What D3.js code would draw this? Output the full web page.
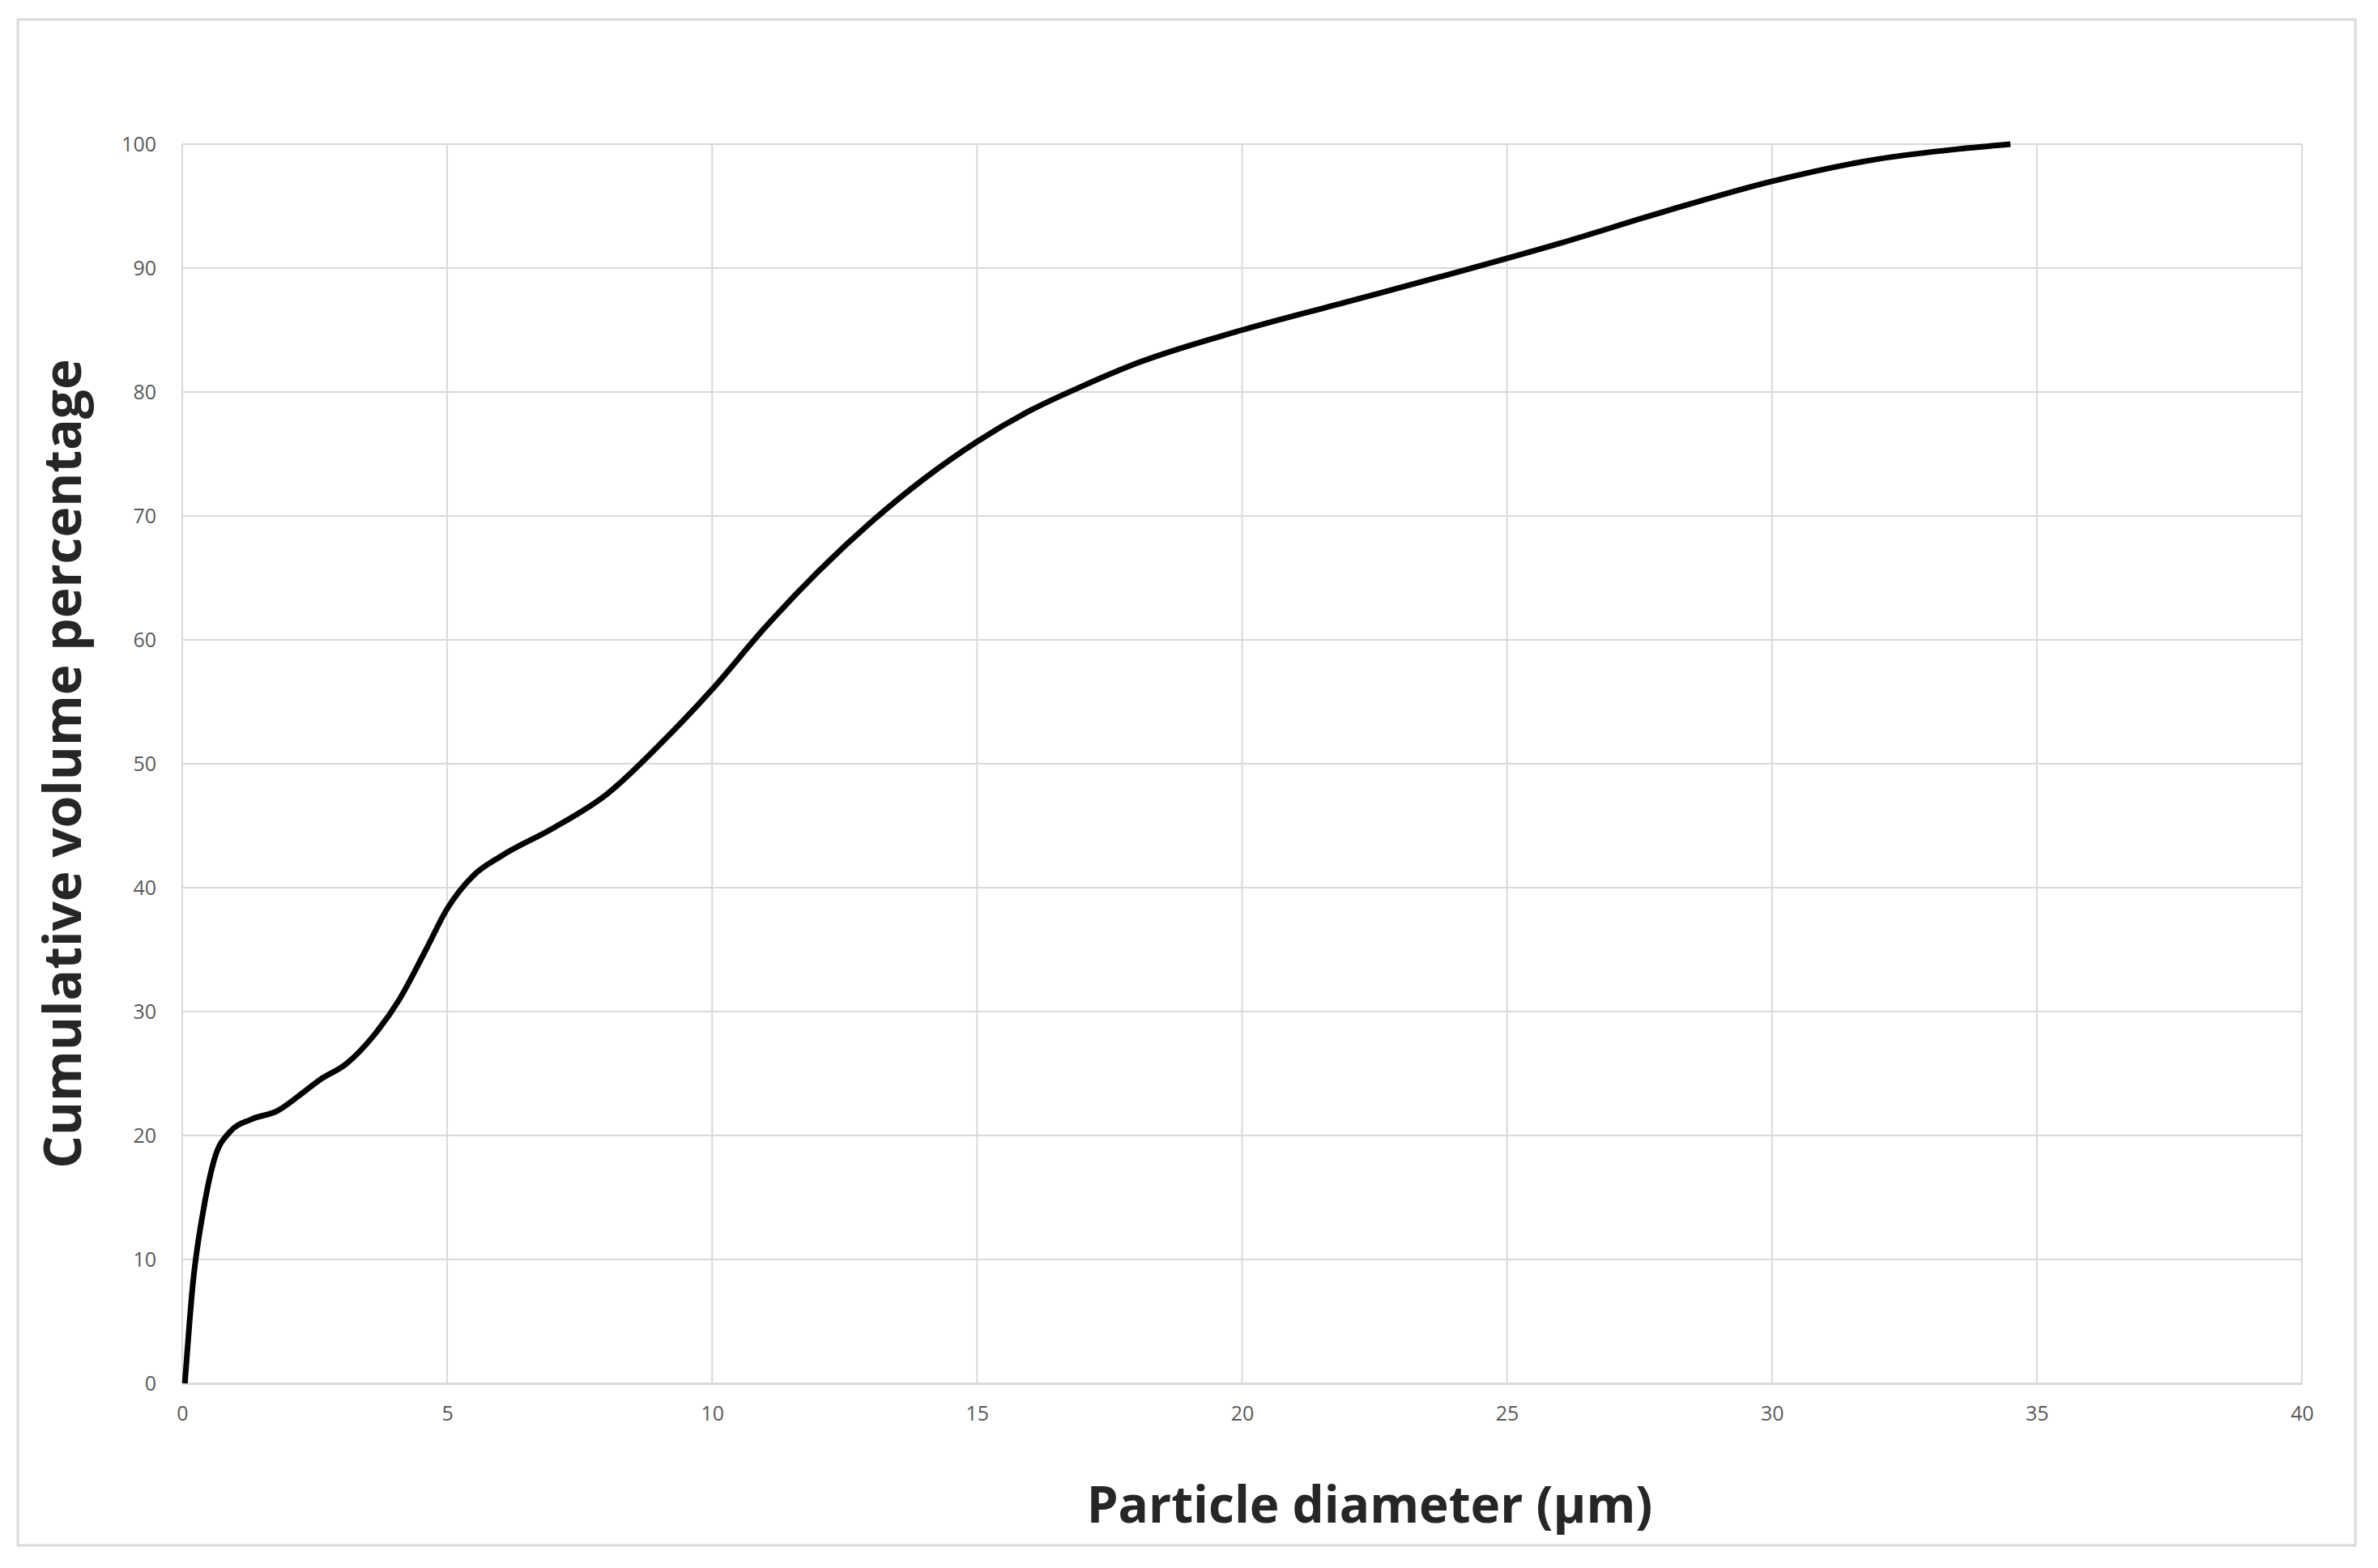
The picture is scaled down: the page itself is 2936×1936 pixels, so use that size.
<!DOCTYPE html><html><head><meta charset="utf-8"><script src="https://cdn.jsdelivr.net/npm/d3@7"></script>
<style>body{margin:0;background:#fff}</style></head><body><svg id="c" width="2936" height="1936"></svg>
<script>
const diameter=[0.05,0.2,0.4,0.6,0.9,1.3,1.8,2.2,2.6,3.1,3.6,4.1,4.6,5,5.5,6,7,8,9,10,11,12,13,14,15,16,17,18,20,22,24,26,28,30,32,33.5,34.5];
const cumulative=[0,8,14,18,20.3,21.3,22,23.2,24.5,25.8,28,31,35,38.3,41,42.5,44.8,47.5,51.5,56,61,65.5,69.5,73,76,78.5,80.5,82.3,85,87.3,89.6,92,94.6,97,98.8,99.6,100];
const xTicks=[0,5,10,15,20,25,30,35,40];
const yTicks=[0,10,20,30,40,50,60,70,80,90,100];
const svg=d3.select("#c");
svg.append("rect").attr("x",22).attr("y",24).attr("width",2886).attr("height",1884).attr("fill","none").attr("stroke","#d9d9d9").attr("stroke-width",3);
const L=225,R=2842,T=178,B=1708;
const x=d3.scaleLinear().domain([0,40]).range([L,R]);
const y=d3.scaleLinear().domain([0,100]).range([B,T]);
const g=svg.append("g");
g.selectAll(".vx").data(xTicks).join("line").attr("x1",d=>x(d)).attr("x2",d=>x(d)).attr("y1",T).attr("y2",B).attr("stroke","#d9d9d9").attr("stroke-width",2);
g.selectAll(".hy").data(yTicks).join("line").attr("y1",d=>y(d)).attr("y2",d=>y(d)).attr("x1",L).attr("x2",R).attr("stroke","#d9d9d9").attr("stroke-width",2);
const xa=svg.append("g").attr("transform",`translate(0,${B})`).call(d3.axisBottom(x).tickValues(xTicks).tickSize(0).tickPadding(28));
const ya=svg.append("g").attr("transform",`translate(${L},0)`).call(d3.axisLeft(y).tickValues(yTicks).tickSize(0).tickPadding(32));
[xa,ya].forEach(a=>{a.select(".domain").attr("stroke","#d9d9d9").attr("stroke-width",3);a.selectAll("text").attr("font-family","Open Sans").attr("font-size",25).attr("fill","#595959");});
ya.select(".domain").remove();
svg.append("path").datum(diameter.map((d,i)=>[d,cumulative[i]])).attr("fill","none").attr("stroke","#000").attr("stroke-width",7)
 .attr("d",d3.line().x(d=>x(d[0])).y(d=>y(d[1])).curve(d3.curveMonotoneX));
svg.append("text").attr("x",1691).attr("y",1880).attr("text-anchor","middle").attr("font-family","Open Sans").attr("font-weight","bold").attr("font-size",62).attr("fill","#262626").text("Particle diameter (μm)");
svg.append("text").attr("transform",`translate(100,${(T+B)/2}) rotate(-90)`).attr("text-anchor","middle").attr("font-family","Open Sans").attr("font-weight","bold").attr("font-size",64).attr("fill","#262626").text("Cumulative volume percentage");
</script></body></html>
